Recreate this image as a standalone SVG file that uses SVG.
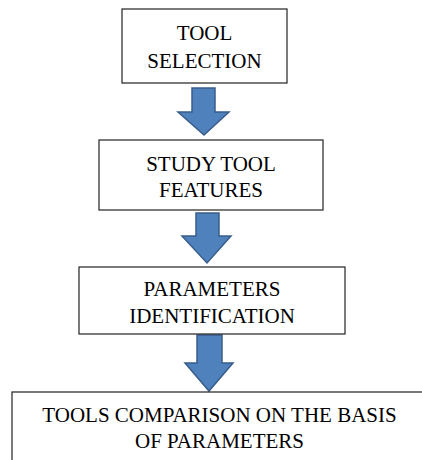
<svg xmlns="http://www.w3.org/2000/svg" width="422" height="460" viewBox="0 0 422 460">
<style>
.box{fill:#fff;stroke:#222;stroke-width:1.2}
.t{font-family:'Liberation Serif','DejaVu Serif',serif;font-size:21px;fill:#000;text-anchor:middle}
.arr{fill:#4F81BD;stroke:#385D8A;stroke-width:1.5;stroke-linejoin:miter}
</style>
<rect width="422" height="460" fill="#fff"/>
<g id="connectors">
<polygon class="arr" points="192,88 215,88 215,112 229,112 204,135 178,112 192,112"/>
<polygon class="arr" points="196,213 219,213 219,236 231,236 207,263 182,236 196,236"/>
<polygon class="arr" points="197,335 222,335 222,363 233,363 209,391 185,363 197,363"/>
</g>
<g id="n1">
<rect class="box" x="122" y="9" width="165" height="74"/>
<text class="t" x="204.5" y="40" font-family="Liberation Serif, serif">TOOL</text>
<text class="t" x="204.5" y="68" font-family="Liberation Serif, serif">SELECTION</text>
</g>
<g id="n2">
<rect class="box" x="99" y="140" width="224" height="70"/>
<text class="t" x="211" y="171">STUDY TOOL</text>
<text class="t" x="211" y="197">FEATURES</text>
</g>
<g id="n3">
<rect class="box" x="79" y="267" width="266" height="67"/>
<text class="t" x="212" y="296">PARAMETERS</text>
<text class="t" x="212" y="323">IDENTIFICATION</text>
</g>
<g id="n4">
<rect class="box" x="12" y="392" width="416" height="80"/>
<text class="t" x="219.5" y="422">TOOLS COMPARISON ON THE BASIS</text>
<text class="t" x="219.5" y="448">OF PARAMETERS</text>
</g>
</svg>
